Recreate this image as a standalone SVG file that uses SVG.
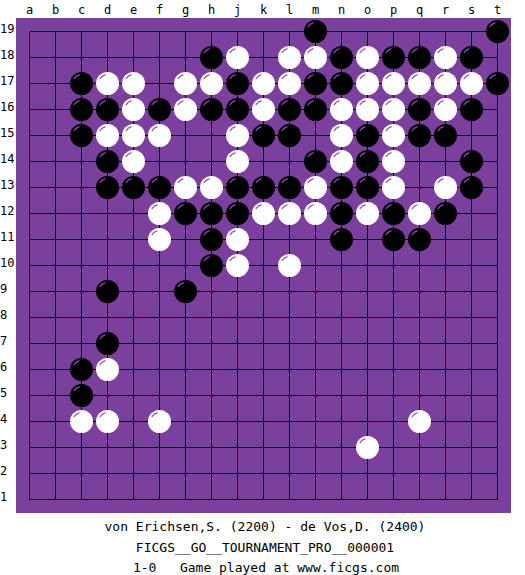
<svg xmlns="http://www.w3.org/2000/svg" xmlns:xlink="http://www.w3.org/1999/xlink" width="525" height="575" viewBox="0 0 525 575">
<style>
.board{fill:#7b409d}
.grid{stroke:#000;stroke-width:1;fill:none;shape-rendering:crispEdges}
.b{fill:#000}
.w{fill:#fff}
.hl{fill:none;stroke:#8e52b8;stroke-width:1.3}
.lbl{font-family:"DejaVu Sans Mono","Liberation Mono",monospace;font-size:12px;fill:#000}
.col{text-anchor:middle}
.foot{font-family:"DejaVu Sans Mono","Liberation Mono",monospace;font-size:13px;fill:#000;text-anchor:middle;white-space:pre}
</style>
<defs>
<g id="bs"><circle class="b" r="11.5"/><path class="hl" d="M-7.7,-4.5A9,9 0 0 1 -2,-8.8"/></g>
<g id="ws"><circle class="w" r="11.5"/><path class="hl" d="M-7.7,-4.5A9,9 0 0 1 -2,-8.8"/></g>
</defs>
<rect width="525" height="575" fill="#fff"/>
<rect class="board" x="16" y="18" width="495" height="495"/>
<g id="grid" class="grid">
<path d="M29.5,31.5V499.5M55.5,31.5V499.5M81.5,31.5V499.5M107.5,31.5V499.5M133.5,31.5V499.5M159.5,31.5V499.5M185.5,31.5V499.5M211.5,31.5V499.5M237.5,31.5V499.5M263.5,31.5V499.5M289.5,31.5V499.5M315.5,31.5V499.5M341.5,31.5V499.5M367.5,31.5V499.5M393.5,31.5V499.5M419.5,31.5V499.5M445.5,31.5V499.5M471.5,31.5V499.5M497.5,31.5V499.5"/>
<path d="M29.5,31.5H497.5M29.5,57.5H497.5M29.5,83.5H497.5M29.5,109.5H497.5M29.5,135.5H497.5M29.5,161.5H497.5M29.5,187.5H497.5M29.5,213.5H497.5M29.5,239.5H497.5M29.5,265.5H497.5M29.5,291.5H497.5M29.5,317.5H497.5M29.5,343.5H497.5M29.5,369.5H497.5M29.5,395.5H497.5M29.5,421.5H497.5M29.5,447.5H497.5M29.5,473.5H497.5M29.5,499.5H497.5"/>
</g>
<g id="connectors"></g>
<g id="col-labels" class="lbl col">
<text x="29.5" y="14">a</text><text x="55.5" y="14">b</text><text x="81.5" y="14">c</text><text x="107.5" y="14">d</text><text x="133.5" y="14">e</text><text x="159.5" y="14">f</text><text x="185.5" y="14">g</text><text x="211.5" y="14">h</text><text x="237.5" y="14">j</text><text x="263.5" y="14">k</text><text x="289.5" y="14">l</text><text x="315.5" y="14">m</text><text x="341.5" y="14">n</text><text x="367.5" y="14">o</text><text x="393.5" y="14">p</text><text x="419.5" y="14">q</text><text x="445.5" y="14">r</text><text x="471.5" y="14">s</text><text x="497.5" y="14">t</text>
</g>
<g id="row-labels" class="lbl">
<text x="0" y="33.2">19</text><text x="0" y="59.2">18</text><text x="0" y="85.2">17</text><text x="0" y="111.2">16</text><text x="0" y="137.2">15</text><text x="0" y="163.2">14</text><text x="0" y="189.2">13</text><text x="0" y="215.2">12</text><text x="0" y="241.2">11</text><text x="0" y="267.2">10</text><text x="0" y="293.2">9</text><text x="0" y="319.2">8</text><text x="0" y="345.2">7</text><text x="0" y="371.2">6</text><text x="0" y="397.2">5</text><text x="0" y="423.2">4</text><text x="0" y="449.2">3</text><text x="0" y="475.2">2</text><text x="0" y="501.2">1</text>
</g>
<g id="stones">
<g id="B-m19"><use xlink:href="#bs" href="#bs" x="315.5" y="31.5"/></g>
<g id="B-t19"><use xlink:href="#bs" href="#bs" x="497.5" y="31.5"/></g>
<g id="B-h18"><use xlink:href="#bs" href="#bs" x="211.5" y="57.5"/></g>
<g id="W-j18"><use xlink:href="#ws" href="#ws" x="237.5" y="57.5"/></g>
<g id="W-l18"><use xlink:href="#ws" href="#ws" x="289.5" y="57.5"/></g>
<g id="W-m18"><use xlink:href="#ws" href="#ws" x="315.5" y="57.5"/></g>
<g id="B-n18"><use xlink:href="#bs" href="#bs" x="341.5" y="57.5"/></g>
<g id="W-o18"><use xlink:href="#ws" href="#ws" x="367.5" y="57.5"/></g>
<g id="B-p18"><use xlink:href="#bs" href="#bs" x="393.5" y="57.5"/></g>
<g id="B-q18"><use xlink:href="#bs" href="#bs" x="419.5" y="57.5"/></g>
<g id="W-r18"><use xlink:href="#ws" href="#ws" x="445.5" y="57.5"/></g>
<g id="B-s18"><use xlink:href="#bs" href="#bs" x="471.5" y="57.5"/></g>
<g id="B-c17"><use xlink:href="#bs" href="#bs" x="81.5" y="83.5"/></g>
<g id="W-d17"><use xlink:href="#ws" href="#ws" x="107.5" y="83.5"/></g>
<g id="W-e17"><use xlink:href="#ws" href="#ws" x="133.5" y="83.5"/></g>
<g id="W-g17"><use xlink:href="#ws" href="#ws" x="185.5" y="83.5"/></g>
<g id="W-h17"><use xlink:href="#ws" href="#ws" x="211.5" y="83.5"/></g>
<g id="B-j17"><use xlink:href="#bs" href="#bs" x="237.5" y="83.5"/></g>
<g id="W-k17"><use xlink:href="#ws" href="#ws" x="263.5" y="83.5"/></g>
<g id="W-l17"><use xlink:href="#ws" href="#ws" x="289.5" y="83.5"/></g>
<g id="B-m17"><use xlink:href="#bs" href="#bs" x="315.5" y="83.5"/></g>
<g id="B-n17"><use xlink:href="#bs" href="#bs" x="341.5" y="83.5"/></g>
<g id="W-o17"><use xlink:href="#ws" href="#ws" x="367.5" y="83.5"/></g>
<g id="W-p17"><use xlink:href="#ws" href="#ws" x="393.5" y="83.5"/></g>
<g id="W-q17"><use xlink:href="#ws" href="#ws" x="419.5" y="83.5"/></g>
<g id="W-r17"><use xlink:href="#ws" href="#ws" x="445.5" y="83.5"/></g>
<g id="W-s17"><use xlink:href="#ws" href="#ws" x="471.5" y="83.5"/></g>
<g id="B-t17"><use xlink:href="#bs" href="#bs" x="497.5" y="83.5"/></g>
<g id="B-c16"><use xlink:href="#bs" href="#bs" x="81.5" y="109.5"/></g>
<g id="B-d16"><use xlink:href="#bs" href="#bs" x="107.5" y="109.5"/></g>
<g id="W-e16"><use xlink:href="#ws" href="#ws" x="133.5" y="109.5"/></g>
<g id="B-f16"><use xlink:href="#bs" href="#bs" x="159.5" y="109.5"/></g>
<g id="W-g16"><use xlink:href="#ws" href="#ws" x="185.5" y="109.5"/></g>
<g id="B-h16"><use xlink:href="#bs" href="#bs" x="211.5" y="109.5"/></g>
<g id="B-j16"><use xlink:href="#bs" href="#bs" x="237.5" y="109.5"/></g>
<g id="W-k16"><use xlink:href="#ws" href="#ws" x="263.5" y="109.5"/></g>
<g id="B-l16"><use xlink:href="#bs" href="#bs" x="289.5" y="109.5"/></g>
<g id="B-m16"><use xlink:href="#bs" href="#bs" x="315.5" y="109.5"/></g>
<g id="W-n16"><use xlink:href="#ws" href="#ws" x="341.5" y="109.5"/></g>
<g id="W-o16"><use xlink:href="#ws" href="#ws" x="367.5" y="109.5"/></g>
<g id="W-p16"><use xlink:href="#ws" href="#ws" x="393.5" y="109.5"/></g>
<g id="B-q16"><use xlink:href="#bs" href="#bs" x="419.5" y="109.5"/></g>
<g id="W-r16"><use xlink:href="#ws" href="#ws" x="445.5" y="109.5"/></g>
<g id="B-s16"><use xlink:href="#bs" href="#bs" x="471.5" y="109.5"/></g>
<g id="B-c15"><use xlink:href="#bs" href="#bs" x="81.5" y="135.5"/></g>
<g id="W-d15"><use xlink:href="#ws" href="#ws" x="107.5" y="135.5"/></g>
<g id="W-e15"><use xlink:href="#ws" href="#ws" x="133.5" y="135.5"/></g>
<g id="W-f15"><use xlink:href="#ws" href="#ws" x="159.5" y="135.5"/></g>
<g id="W-j15"><use xlink:href="#ws" href="#ws" x="237.5" y="135.5"/></g>
<g id="B-k15"><use xlink:href="#bs" href="#bs" x="263.5" y="135.5"/></g>
<g id="B-l15"><use xlink:href="#bs" href="#bs" x="289.5" y="135.5"/></g>
<g id="W-n15"><use xlink:href="#ws" href="#ws" x="341.5" y="135.5"/></g>
<g id="B-o15"><use xlink:href="#bs" href="#bs" x="367.5" y="135.5"/></g>
<g id="W-p15"><use xlink:href="#ws" href="#ws" x="393.5" y="135.5"/></g>
<g id="B-q15"><use xlink:href="#bs" href="#bs" x="419.5" y="135.5"/></g>
<g id="B-r15"><use xlink:href="#bs" href="#bs" x="445.5" y="135.5"/></g>
<g id="B-d14"><use xlink:href="#bs" href="#bs" x="107.5" y="161.5"/></g>
<g id="W-e14"><use xlink:href="#ws" href="#ws" x="133.5" y="161.5"/></g>
<g id="W-j14"><use xlink:href="#ws" href="#ws" x="237.5" y="161.5"/></g>
<g id="B-m14"><use xlink:href="#bs" href="#bs" x="315.5" y="161.5"/></g>
<g id="W-n14"><use xlink:href="#ws" href="#ws" x="341.5" y="161.5"/></g>
<g id="B-o14"><use xlink:href="#bs" href="#bs" x="367.5" y="161.5"/></g>
<g id="W-p14"><use xlink:href="#ws" href="#ws" x="393.5" y="161.5"/></g>
<g id="B-s14"><use xlink:href="#bs" href="#bs" x="471.5" y="161.5"/></g>
<g id="B-d13"><use xlink:href="#bs" href="#bs" x="107.5" y="187.5"/></g>
<g id="B-e13"><use xlink:href="#bs" href="#bs" x="133.5" y="187.5"/></g>
<g id="B-f13"><use xlink:href="#bs" href="#bs" x="159.5" y="187.5"/></g>
<g id="W-g13"><use xlink:href="#ws" href="#ws" x="185.5" y="187.5"/></g>
<g id="W-h13"><use xlink:href="#ws" href="#ws" x="211.5" y="187.5"/></g>
<g id="B-j13"><use xlink:href="#bs" href="#bs" x="237.5" y="187.5"/></g>
<g id="B-k13"><use xlink:href="#bs" href="#bs" x="263.5" y="187.5"/></g>
<g id="B-l13"><use xlink:href="#bs" href="#bs" x="289.5" y="187.5"/></g>
<g id="W-m13"><use xlink:href="#ws" href="#ws" x="315.5" y="187.5"/></g>
<g id="B-n13"><use xlink:href="#bs" href="#bs" x="341.5" y="187.5"/></g>
<g id="B-o13"><use xlink:href="#bs" href="#bs" x="367.5" y="187.5"/></g>
<g id="W-p13"><use xlink:href="#ws" href="#ws" x="393.5" y="187.5"/></g>
<g id="W-r13"><use xlink:href="#ws" href="#ws" x="445.5" y="187.5"/></g>
<g id="B-s13"><use xlink:href="#bs" href="#bs" x="471.5" y="187.5"/></g>
<g id="W-f12"><use xlink:href="#ws" href="#ws" x="159.5" y="213.5"/></g>
<g id="B-g12"><use xlink:href="#bs" href="#bs" x="185.5" y="213.5"/></g>
<g id="B-h12"><use xlink:href="#bs" href="#bs" x="211.5" y="213.5"/></g>
<g id="B-j12"><use xlink:href="#bs" href="#bs" x="237.5" y="213.5"/></g>
<g id="W-k12"><use xlink:href="#ws" href="#ws" x="263.5" y="213.5"/></g>
<g id="W-l12"><use xlink:href="#ws" href="#ws" x="289.5" y="213.5"/></g>
<g id="W-m12"><use xlink:href="#ws" href="#ws" x="315.5" y="213.5"/></g>
<g id="B-n12"><use xlink:href="#bs" href="#bs" x="341.5" y="213.5"/></g>
<g id="W-o12"><use xlink:href="#ws" href="#ws" x="367.5" y="213.5"/></g>
<g id="B-p12"><use xlink:href="#bs" href="#bs" x="393.5" y="213.5"/></g>
<g id="W-q12"><use xlink:href="#ws" href="#ws" x="419.5" y="213.5"/></g>
<g id="B-r12"><use xlink:href="#bs" href="#bs" x="445.5" y="213.5"/></g>
<g id="W-f11"><use xlink:href="#ws" href="#ws" x="159.5" y="239.5"/></g>
<g id="B-h11"><use xlink:href="#bs" href="#bs" x="211.5" y="239.5"/></g>
<g id="W-j11"><use xlink:href="#ws" href="#ws" x="237.5" y="239.5"/></g>
<g id="B-n11"><use xlink:href="#bs" href="#bs" x="341.5" y="239.5"/></g>
<g id="B-p11"><use xlink:href="#bs" href="#bs" x="393.5" y="239.5"/></g>
<g id="B-q11"><use xlink:href="#bs" href="#bs" x="419.5" y="239.5"/></g>
<g id="B-h10"><use xlink:href="#bs" href="#bs" x="211.5" y="265.5"/></g>
<g id="W-j10"><use xlink:href="#ws" href="#ws" x="237.5" y="265.5"/></g>
<g id="W-l10"><use xlink:href="#ws" href="#ws" x="289.5" y="265.5"/></g>
<g id="B-d9"><use xlink:href="#bs" href="#bs" x="107.5" y="291.5"/></g>
<g id="B-g9"><use xlink:href="#bs" href="#bs" x="185.5" y="291.5"/></g>
<g id="B-d7"><use xlink:href="#bs" href="#bs" x="107.5" y="343.5"/></g>
<g id="B-c6"><use xlink:href="#bs" href="#bs" x="81.5" y="369.5"/></g>
<g id="W-d6"><use xlink:href="#ws" href="#ws" x="107.5" y="369.5"/></g>
<g id="B-c5"><use xlink:href="#bs" href="#bs" x="81.5" y="395.5"/></g>
<g id="W-c4"><use xlink:href="#ws" href="#ws" x="81.5" y="421.5"/></g>
<g id="W-d4"><use xlink:href="#ws" href="#ws" x="107.5" y="421.5"/></g>
<g id="W-f4"><use xlink:href="#ws" href="#ws" x="159.5" y="421.5"/></g>
<g id="W-q4"><use xlink:href="#ws" href="#ws" x="419.5" y="421.5"/></g>
<g id="W-o3"><use xlink:href="#ws" href="#ws" x="367.5" y="447.5"/></g>
</g>
<g id="caption" class="foot">
<text x="265" y="531">von Erichsen,S. (2200) - de Vos,D. (2400)</text>
<text x="265" y="552">FICGS__GO__TOURNAMENT_PRO__000001</text>
<text x="266" y="572" xml:space="preserve">1-0   Game played at www.ficgs.com</text>
</g>
</svg>
